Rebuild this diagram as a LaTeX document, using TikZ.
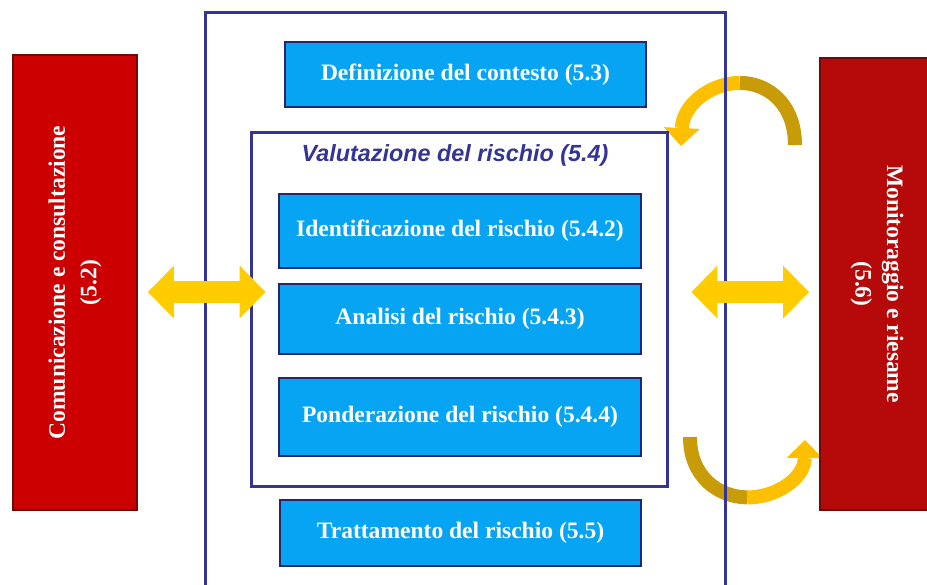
\documentclass[tikz,border=0pt]{standalone}
\usepackage{fontspec}
\setmainfont{Liberation Serif}
\setsansfont{Liberation Sans}
\usetikzlibrary{arrows.meta}

\definecolor{boxblue}{RGB}{8,164,244}
\definecolor{boxnavy}{RGB}{38,38,112}
\definecolor{framenavy}{RGB}{52,52,150}
\definecolor{redL}{RGB}{204,0,0}
\definecolor{redR}{RGB}{182,10,10}
\definecolor{redrim}{RGB}{110,10,10}
\definecolor{goldL}{RGB}{252,192,0}
\definecolor{goldD}{RGB}{200,156,8}
\definecolor{arrowgold}{RGB}{255,204,0}

\begin{document}
\begin{tikzpicture}[x=0.02cm,y=-0.02cm]
	\def \boxwd{7.24cm}
	\tikzstyle{b-node}=[rectangle,draw=boxnavy,line width=0.05cm,fill=boxblue,text=white,font=\bfseries\fontsize{13.4}{16}\selectfont,minimum width=\boxwd,inner sep=0pt]
	\tikzstyle{r-node}=[rectangle,draw=redrim,line width=0.04cm,text=white,font=\bfseries\fontsize{13.4}{18}\selectfont,align=center,inner sep=0pt]
	\tikzstyle{v-frame}=[rectangle,draw=framenavy,line width=0.06cm,minimum width=8.34cm,minimum height=7.1cm,inner sep=0pt]
	\tikzstyle{v-title}=[text=framenavy,font=\sffamily\bfseries\itshape\fontsize{13.3}{16}\selectfont]
	\tikzstyle{frame}=[draw=framenavy,line width=0.06cm]
	\tikzstyle{dbl-arrow}=[draw=arrowgold,line width=0.44cm,{Triangle[length=0.52cm,width=1.06cm,line width=0pt]}-{Triangle[length=0.52cm,width=1.06cm,line width=0pt]}]
	\tikzstyle{arc-bright}=[draw=goldL,line width=0.28cm,-{Triangle[length=0.36cm,width=0.72cm,line width=0pt]}]
	\tikzstyle{arc-dark}=[draw=goldD,line width=0.28cm]

	\useasboundingbox (0,0) rectangle (927,585);

	% loops near the monitoring box
	\coordinate (tArcS) at (795,145);
	\coordinate (tArcM) at (739.5,82.9);
	\coordinate (tArcE) at (681,146);
	\coordinate (bArcS) at (690,437);
	\coordinate (bArcM) at (747.1,497.4);
	\coordinate (bArcE) at (805,440);
	\draw[arc-dark] (tArcS) .. controls (795,103.5) and (767.5,82.75) .. (tArcM);
	\draw[arc-bright] (tArcM) .. controls (711.5,83) and (683,104) .. (tArcE);
	\draw[arc-dark] (bArcS) .. controls (690,477) and (718.5,497) .. (bArcM);
	\draw[arc-bright] (bArcM) .. controls (775.75,497.75) and (804.5,478.5) .. (bArcE);

	% process frame
	\draw[frame] (205,600) -- (205,12) -- (725,12) -- (725,600);

	% side boxes
	\node[r-node,fill=redL,rotate=90,minimum width=9.1cm,minimum height=2.48cm] 	(comm)	at (75,282.5)	{Comunicazione e consultazione\\(5.2)};
	\node[r-node,fill=redR,rotate=-90,minimum width=9.04cm,minimum height=2.28cm] 	(moni)	at (877,284)	{Monitoraggio e riesame\\(5.6)};

	% risk assessment
	\node[v-frame] 	(valut)	at (459.5,309.5)	{};
	\node[v-title] 	(vtitle)	at (455,155)	{Valutazione del rischio (5.4)};

	% steps
	\node[b-node,minimum width=7.22cm,minimum height=1.3cm] 	(b0)	at (465.5,74.5)	{Definizione del contesto (5.3)};
	\node[b-node,minimum height=1.48cm] 	(b1)	at (460,231)	{Identificazione del rischio (5.4.2)};
	\node[b-node,minimum height=1.4cm] 	(b2)	at (460,319)	{Analisi del rischio (5.4.3)};
	\node[b-node,minimum height=1.56cm] 	(b3)	at (460,417)	{Ponderazione del rischio (5.4.4)};
	\node[b-node,minimum width=7.22cm,minimum height=1.32cm] 	(b4)	at (460.5,533)	{Trattamento del rischio (5.5)};

	% exchange arrows
	\draw[dbl-arrow,shorten <=0.2cm,shorten >=-0.32cm] ([yshift=-0.19cm]comm.south) -- ([yshift=-0.19cm]comm.south -| valut.west);
	\draw[dbl-arrow,shorten <=0.44cm,shorten >=0.2cm] ([yshift=0.35cm]valut.east) -- ([yshift=0.35cm]valut.east -| moni.south);
\end{tikzpicture}
\end{document}
